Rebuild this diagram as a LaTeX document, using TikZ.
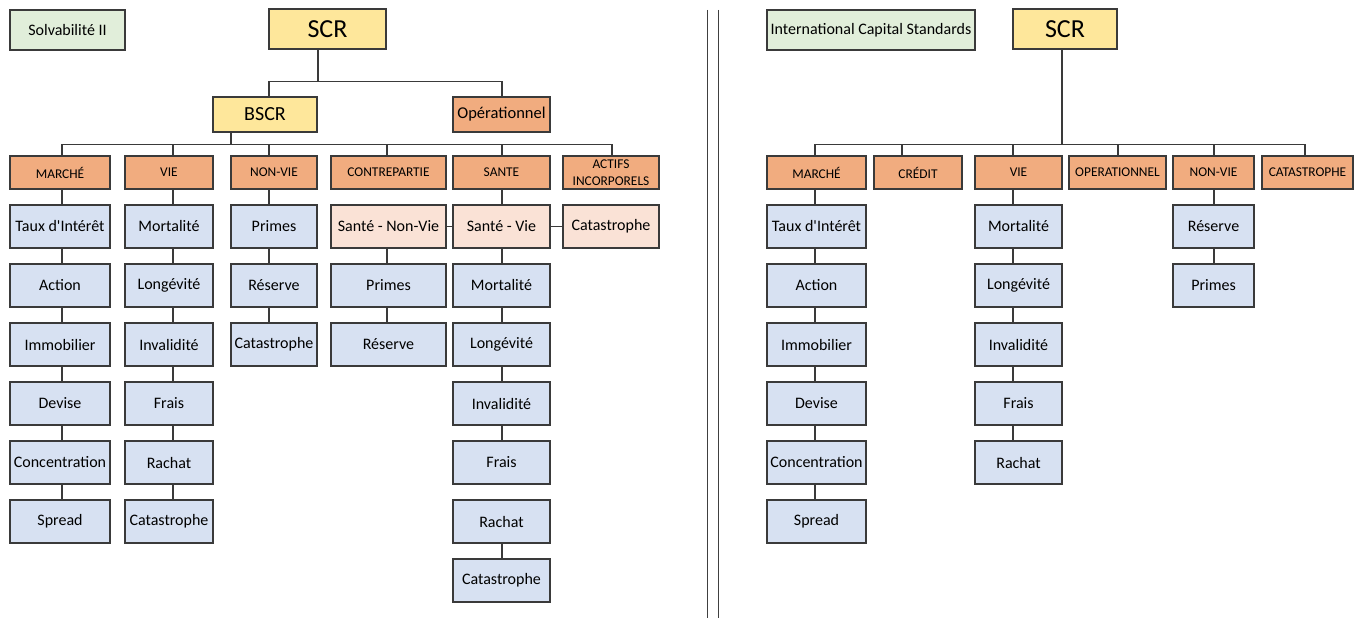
\documentclass[tikz,border=0pt]{standalone}
\usepackage{fontspec}
\setmainfont{Carlito}
\definecolor{cblue}{HTML}{D7E1F2}
\definecolor{corange}{HTML}{F1AC7F}
\definecolor{cyellow}{HTML}{FEE79B}
\definecolor{cpink}{HTML}{FAE2D6}
\definecolor{cgreen}{HTML}{E1EEDA}
\definecolor{cline}{HTML}{3A3A3A}
\begin{document}
\begin{tikzpicture}[x=1pt,y=-1pt,
  box/.style={draw=cline, line width=1.3pt, inner sep=0pt, align=center,
    font=\fontsize{16}{17}\selectfont},
  title/.style={box, fill=cgreen, minimum height=40pt},
  top/.style={box, fill=cyellow, line width=2.6pt, minimum height=40pt,
    font=\fontsize{26}{28}\selectfont},
  mid/.style={box, minimum height=35pt},
  cat/.style={box, fill=corange, minimum height=33pt,
    font=\fontsize{13.4}{16.5}\selectfont},
  leaf/.style={box, fill=cblue, minimum height=43pt},
  pinkleaf/.style={box, fill=cpink, minimum height=43pt},
  link/.style={draw=cline, line width=1.1pt},
  divider/.style={draw=black!75, line width=1.5pt}]
\useasboundingbox (0,0) rectangle (1362,618);
\fill[white] (0,0) rectangle (1362,618);

% ---------- Solvabilité II ----------
\node[title, minimum width=115pt] (sol) at (67.5,30) {Solvabilité II};
\node[top, minimum width=117pt] (scrL) at (327.5,29) {SCR};
\node[mid, fill=cyellow, minimum width=104pt, font=\fontsize{20}{22}\selectfont] (bscr) at (265,114.5) {BSCR};
\node[mid, fill=corange, minimum width=97pt, font=\fontsize{16.5}{18}\selectfont] (op) at (501.5,114.5) {Opérationnel};

\node[cat, minimum width=100pt] (mh) at (60,172.5) {MARCHÉ};
\node[cat, minimum width=88pt] (vh) at (169,172.5) {VIE};
\node[cat, minimum width=86pt] (nvh) at (274,172.5) {NON-VIE};
\node[cat, minimum width=115pt] (cph) at (388.5,172.5) {CONTREPARTIE};
\node[cat, minimum width=97pt] (sh) at (501.5,172.5) {SANTE};
\node[cat, minimum width=96pt] (aih) at (611,172.5) {ACTIFS\\INCORPORELS};

% Marché
\begin{scope}[every node/.append style={leaf, minimum width=100pt}]
\node (m1) at (60,226.5) {Taux d\textquotesingle Intérêt};
\node (m2) at (60,285.5) {Action};
\node (m3) at (60,344.5) {Immobilier};
\node (m4) at (60,403.5) {Devise};
\node (m5) at (60,462.5) {Concentration};
\node (m6) at (60,521.5) {Spread};
\end{scope}
% Vie
\begin{scope}[every node/.append style={leaf, minimum width=88pt}]
\node (v1) at (169,226.5) {Mortalité};
\node (v2) at (169,285.5) {Longévité};
\node (v3) at (169,344.5) {Invalidité};
\node (v4) at (169,403.5) {Frais};
\node (v5) at (169,462.5) {Rachat};
\node (v6) at (169,521.5) {Catastrophe};
\end{scope}
% Non-vie
\begin{scope}[every node/.append style={leaf, minimum width=86pt}]
\node (n1) at (274,226.5) {Primes};
\node (n2) at (274,285.5) {Réserve};
\node (n3) at (274,344.5) {Catastrophe};
\end{scope}
% Santé
\node[pinkleaf, minimum width=115pt] (snv) at (388.5,226.5) {Santé - Non-Vie};
\node[pinkleaf, minimum width=97pt] (sv) at (501.5,226.5) {Santé - Vie};
\node[pinkleaf, minimum width=96pt] (scat) at (611,226.5) {Catastrophe};
\begin{scope}[every node/.append style={leaf, minimum width=115pt}]
\node (c1) at (388.5,285.5) {Primes};
\node (c2) at (388.5,344.5) {Réserve};
\end{scope}
\begin{scope}[every node/.append style={leaf, minimum width=97pt}]
\node (s1) at (501.5,285.5) {Mortalité};
\node (s2) at (501.5,344.5) {Longévité};
\node (s3) at (501.5,403.5) {Invalidité};
\node (s4) at (501.5,462.5) {Frais};
\node (s5) at (501.5,521.5) {Rachat};
\node (s6) at (501.5,580.5) {Catastrophe};
\end{scope}

% connectors, left tree
\coordinate (busA) at (0,81.5);
\coordinate (busB) at (0,144.5);
\draw[link] ([xshift=-9.5pt]scrL.south) -- ([xshift=-9.5pt]scrL.south |- busA);
\draw[link] ([xshift=4pt]bscr.north) |- ([xshift=0.5pt]op.north |- busA) -- ([xshift=0.5pt]op.north);
\draw[link] ([xshift=-34pt]bscr.south) -- ([xshift=-34pt]bscr.south |- busB);
\draw[link] ([xshift=2pt]mh.north) |- ([xshift=1pt]aih.north |- busB) -- ([xshift=1pt]aih.north);
\foreach \n/\d in {vh/4, nvh/-5, cph/-1.5, sh/0.5}
  \draw[link] ([xshift=\d pt]\n.north) -- ([xshift=\d pt]\n.north |- busB);

\foreach \a/\b in {mh/m1, m1/m2, m2/m3, m3/m4, m4/m5, m5/m6}
  \draw[link] ([xshift=2pt]\a.south) -- ([xshift=2pt]\b.north);
\foreach \a/\b in {vh/v1, v1/v2, v2/v3, v3/v4, v4/v5, v5/v6}
  \draw[link] ([xshift=4pt]\a.south) -- ([xshift=4pt]\b.north);
\foreach \a/\b in {nvh/n1, n1/n2, n2/n3}
  \draw[link] ([xshift=-5pt]\a.south) -- ([xshift=-5pt]\b.north);
\foreach \a/\b in {snv/c1, c1/c2}
  \draw[link] ([xshift=-1.5pt]\a.south) -- ([xshift=-1.5pt]\b.north);
\foreach \a/\b in {sh/sv, sv/s1, s1/s2, s2/s3, s3/s4, s5/s6}
  \draw[link] ([xshift=0.5pt]\a.south) -- ([xshift=0.5pt]\b.north);
\draw[link] (snv.east) -- (sv.west);
\draw[link] (sv.east) -- (scat.west);

% ---------- separator ----------
\coordinate (sepTop) at (707.5,10);
\coordinate (sepBot) at (707.5,618);
\draw[divider] (sepTop) -- (sepBot);
\draw[divider] ([xshift=11pt]sepTop) -- ([xshift=11pt]sepBot);

% ---------- International Capital Standards ----------
\node[title, minimum width=208pt] (ics) at (871,30) {International Capital Standards};
\node[top, minimum width=104pt] (scrR) at (1065,29) {SCR};

\node[cat, minimum width=99pt] (rmh) at (816.5,172.5) {MARCHÉ};
\node[cat, minimum width=88pt] (rch) at (918,172.5) {CRÉDIT};
\node[cat, minimum width=87pt] (rvh) at (1018.5,172.5) {VIE};
\node[cat, minimum width=97pt] (roh) at (1117.5,172.5) {OPERATIONNEL};
\node[cat, minimum width=81pt] (rnh) at (1213.5,172.5) {NON-VIE};
\node[cat, minimum width=91pt] (rkh) at (1307.5,172.5) {CATASTROPHE};

\begin{scope}[every node/.append style={leaf, minimum width=99pt}]
\node (rm1) at (816.5,226.5) {Taux d\textquotesingle Intérêt};
\node (rm2) at (816.5,285.5) {Action};
\node (rm3) at (816.5,344.5) {Immobilier};
\node (rm4) at (816.5,403.5) {Devise};
\node (rm5) at (816.5,462.5) {Concentration};
\node (rm6) at (816.5,521.5) {Spread};
\end{scope}
\begin{scope}[every node/.append style={leaf, minimum width=87pt}]
\node (rv1) at (1018.5,226.5) {Mortalité};
\node (rv2) at (1018.5,285.5) {Longévité};
\node (rv3) at (1018.5,344.5) {Invalidité};
\node (rv4) at (1018.5,403.5) {Frais};
\node (rv5) at (1018.5,462.5) {Rachat};
\end{scope}
\begin{scope}[every node/.append style={leaf, minimum width=81pt}]
\node (rn1) at (1213.5,226.5) {Réserve};
\node (rn2) at (1213.5,285.5) {Primes};
\end{scope}

% connectors, right tree
\coordinate (busC) at (0,144.5);
\draw[link] ([xshift=-3pt]scrR.south) -- ([xshift=-3pt]scrR.south |- busC);
\draw[link] ([xshift=-1.5pt]rmh.north) |- ([xshift=-2.5pt]rkh.north |- busC) -- ([xshift=-2.5pt]rkh.north);
\foreach \n/\d in {rch/-16, rvh/-5.5, roh/0.5, rnh/0.5}
  \draw[link] ([xshift=\d pt]\n.north) -- ([xshift=\d pt]\n.north |- busC);
\foreach \a/\b in {rmh/rm1, rm1/rm2, rm2/rm3, rm3/rm4, rm4/rm5, rm5/rm6}
  \draw[link] ([xshift=-1.5pt]\a.south) -- ([xshift=-1.5pt]\b.north);
\foreach \a/\b in {rvh/rv1, rv1/rv2, rv2/rv3, rv3/rv4, rv4/rv5}
  \draw[link] ([xshift=-5.5pt]\a.south) -- ([xshift=-5.5pt]\b.north);
\foreach \a/\b in {rnh/rn1, rn1/rn2}
  \draw[link] ([xshift=0.5pt]\a.south) -- ([xshift=0.5pt]\b.north);
\end{tikzpicture}
\end{document}
